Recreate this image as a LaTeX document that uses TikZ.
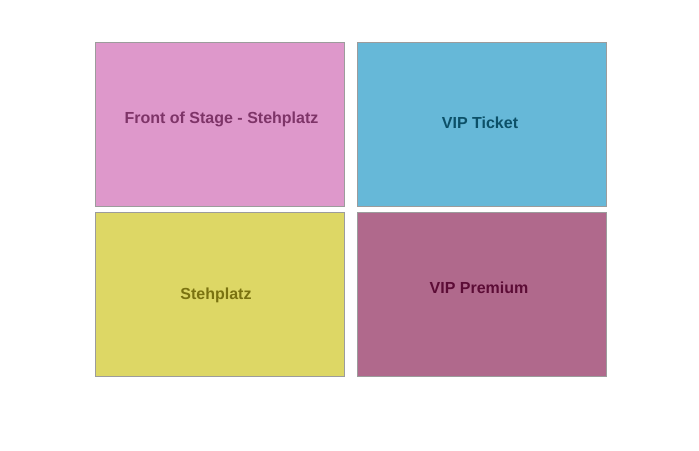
\documentclass[tikz,border=0pt]{standalone}
\usepackage{fontspec}
\setmainfont{Liberation Sans}
\usepackage{tikz}
\usetikzlibrary{calc}

\definecolor{stagepink}{HTML}{DE98CB}
\definecolor{stagetext}{HTML}{7E3468}
\definecolor{ticketblue}{HTML}{66B8D8}
\definecolor{tickettext}{HTML}{0C5068}
\definecolor{standyellow}{HTML}{DDD765}
\definecolor{standtext}{HTML}{7A7210}
\definecolor{premiumpurple}{HTML}{B0698C}
\definecolor{premiumtext}{HTML}{5C0C36}
\definecolor{edgegray}{HTML}{9C9C9C}

\begin{document}
\begin{tikzpicture}[x=1pt, y=1pt,
    block/.style={draw=edgegray, line width=1pt, minimum width=249pt, minimum height=164pt, inner sep=0pt},
    caption/.style={font=\bfseries\fontsize{16}{19}\selectfont, inner sep=0pt}]
    \useasboundingbox[fill=white] (0, 0) rectangle (699, -450);
    \node[block, fill=stagepink] (stage) at (220, -124.5) {};
    \node[block, fill=ticketblue] (ticket) at (482, -124.5) {};
    \node[block, fill=standyellow] (stand) at (220, -294.5) {};
    \node[block, fill=premiumpurple] (premium) at (482, -294.5) {};
    \node[caption, text=stagetext] (stagelabel) at ($(stage.center) + (1.5, 5.5)$) {Front of Stage - Stehplatz};
    \node[caption, text=tickettext] (ticketlabel) at ($(ticket.center) + (-2, 1.5)$) {VIP Ticket};
    \node[caption, text=standtext] (standlabel) at ($(stand.center) + (-4, -1)$) {Stehplatz};
    \node[caption, text=premiumtext] (premiumlabel) at ($(premium.center) + (-3, 6.5)$) {VIP Premium};
  \end{tikzpicture}
\end{document}
